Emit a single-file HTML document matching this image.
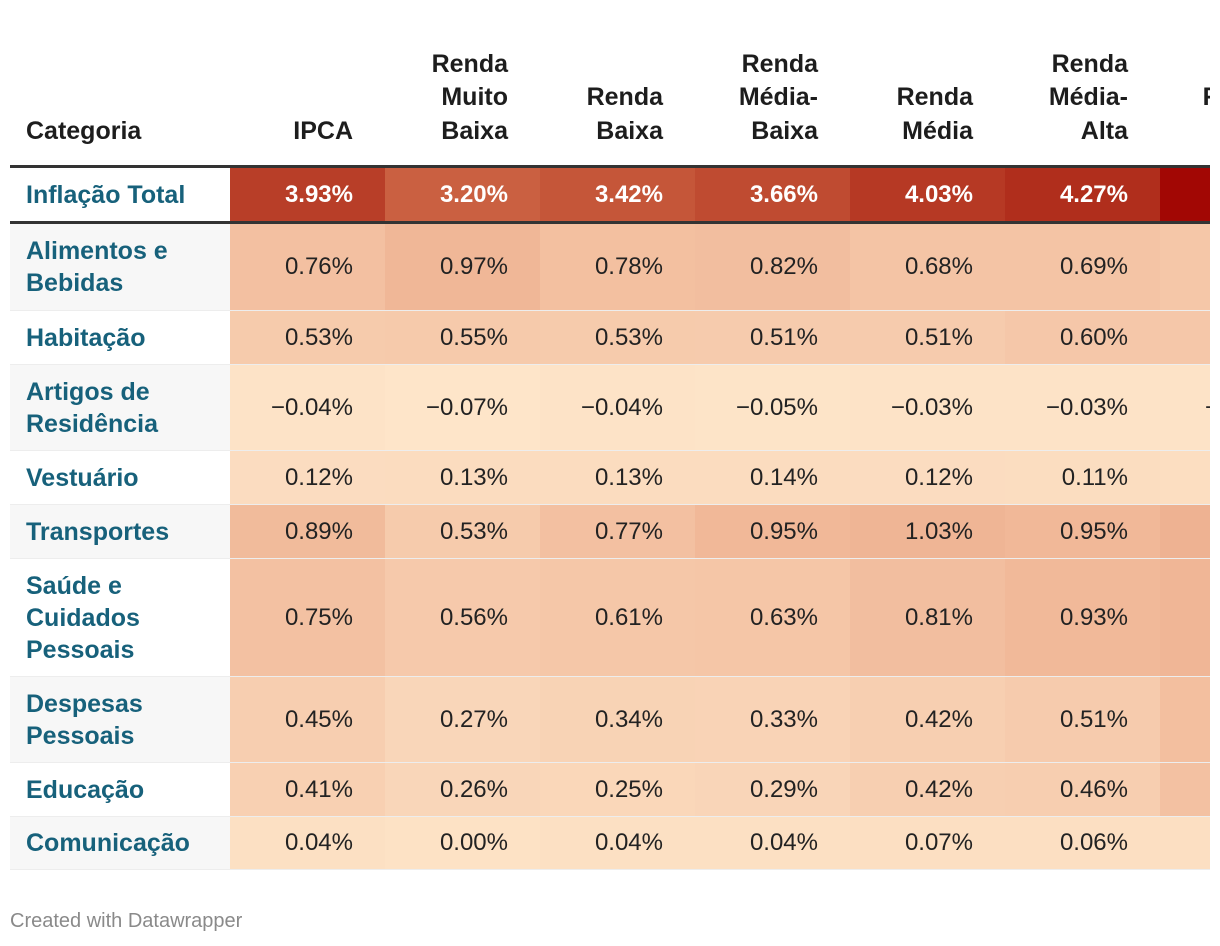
<!DOCTYPE html>
<html><head><meta charset="utf-8">
<style>
html,body{margin:0;padding:0;background:#fff;}
body{width:1220px;height:946px;overflow:hidden;position:relative;font-family:"Liberation Sans",sans-serif;}
#tbl{position:absolute;left:0;top:0;width:1210px;height:900px;overflow:hidden;}
.cell{position:absolute;box-sizing:border-box;}
.hdr{font-weight:bold;font-size:25px;line-height:33.5px;color:#1d1d1d;text-align:right;display:flex;align-items:flex-end;justify-content:flex-end;padding-right:32px;padding-bottom:17px;}
.lab{font-weight:bold;font-size:25px;line-height:32px;color:#17617b;padding-left:16px;display:flex;align-items:center;}
.val{font-size:24px;color:#222;display:flex;align-items:center;justify-content:flex-end;padding-right:32px;}
.foot{position:absolute;left:10px;top:910px;font-size:20px;color:#8a8a8a;}
</style></head><body>
<div id="tbl"></div>
<div class="foot">Created with Datawrapper</div>
<script>
const columns = ["IPCA","Renda<br>Muito<br>Baixa","Renda<br>Baixa","Renda<br>Média-<br>Baixa","Renda<br>Média","Renda<br>Média-<br>Alta","Renda<br>Alta"];
const categories = ["Inflação Total","Alimentos e<br>Bebidas","Habitação","Artigos de<br>Residência","Vestuário","Transportes","Saúde e<br>Cuidados<br>Pessoais","Despesas<br>Pessoais","Educação","Comunicação"];
const ipca = [3.93,0.76,0.53,-0.04,0.12,0.89,0.75,0.45,0.41,0.04];
const muitoBaixa = [3.20,0.97,0.55,-0.07,0.13,0.53,0.56,0.27,0.26,0.00];
const baixa = [3.42,0.78,0.53,-0.04,0.13,0.77,0.61,0.34,0.25,0.04];
const mediaBaixa = [3.66,0.82,0.51,-0.05,0.14,0.95,0.63,0.33,0.29,0.04];
const media = [4.03,0.68,0.51,-0.03,0.12,1.03,0.81,0.42,0.42,0.07];
const mediaAlta = [4.27,0.69,0.60,-0.03,0.11,0.95,0.93,0.51,0.46,0.06];
const alta = [4.55,0.62,0.60,-0.03,0.09,1.10,1.00,0.80,0.75,0.06];
const series = [ipca,muitoBaixa,baixa,mediaBaixa,media,mediaAlta,alta];

const rowTops=[168,224,311,365,451,505,559,677,763,817,870];
const colX = i => 230 + i*155;
const stops=[[-0.1,[254,230,202]],[1.0,[240,182,150]],[3.2,[202,96,65]],[4.27,[176,46,28]],[4.6,[160,0,0]]];
function color(v){
  if(v<=stops[0][0]) return 'rgb('+stops[0][1]+')';
  for(let i=1;i<stops.length;i++){
    if(v<=stops[i][0]){const a=stops[i-1],b=stops[i];const t=(v-a[0])/(b[0]-a[0]);
      return 'rgb('+a[1].map((c,k)=>Math.round(c+(b[1][k]-c)*t)).join(',')+')';}
  }
  return 'rgb('+stops[stops.length-1][1]+')';
}
const fmt=v=>(v<0?'\u2212':'')+Math.abs(v).toFixed(2)+'%';
const T=document.getElementById('tbl');
function mk(cls,x,y,w,h,html){const d=document.createElement('div');d.className='cell '+cls;d.style.left=x+'px';d.style.top=y+'px';d.style.width=w+'px';d.style.height=h+'px';d.innerHTML=html;T.appendChild(d);return d;}
let h=mk('hdr',10,0,220,165,'Categoria');h.style.justifyContent='flex-start';h.style.paddingLeft='16px';


columns.forEach((c,i)=>{const d=mk('hdr',colX(i),0,155,165,c);
if(i===columns.length-1) d.style.paddingRight='36px';

});
categories.forEach((cat,r)=>{
  const y=rowTops[r],hh=rowTops[r+1]-y-(r===0?3:1);
  const l=mk('lab',10,y,220,hh,cat);
  l.style.background=(r%2===1)?'#f7f7f7':'#fff';
  
  
  series.forEach((s,c)=>{
    const d=mk('val',colX(c),y,155,hh,fmt(s[r]));
    d.style.background=color(s[r]);
    if(c===series.length-1) d.style.paddingRight='28px';
    if(r===0){d.style.color='#fff';d.style.fontWeight='bold';}
    
    
  });
  if(r>0){const ln=mk('',10,y+hh,1210,1,'');ln.style.background='rgba(0,0,0,0.07)';
  
  }
});
[165,221].forEach(y=>{const ln=mk('',10,y,1210,3,'');ln.style.background='#333';

});
</script>
</body></html>
